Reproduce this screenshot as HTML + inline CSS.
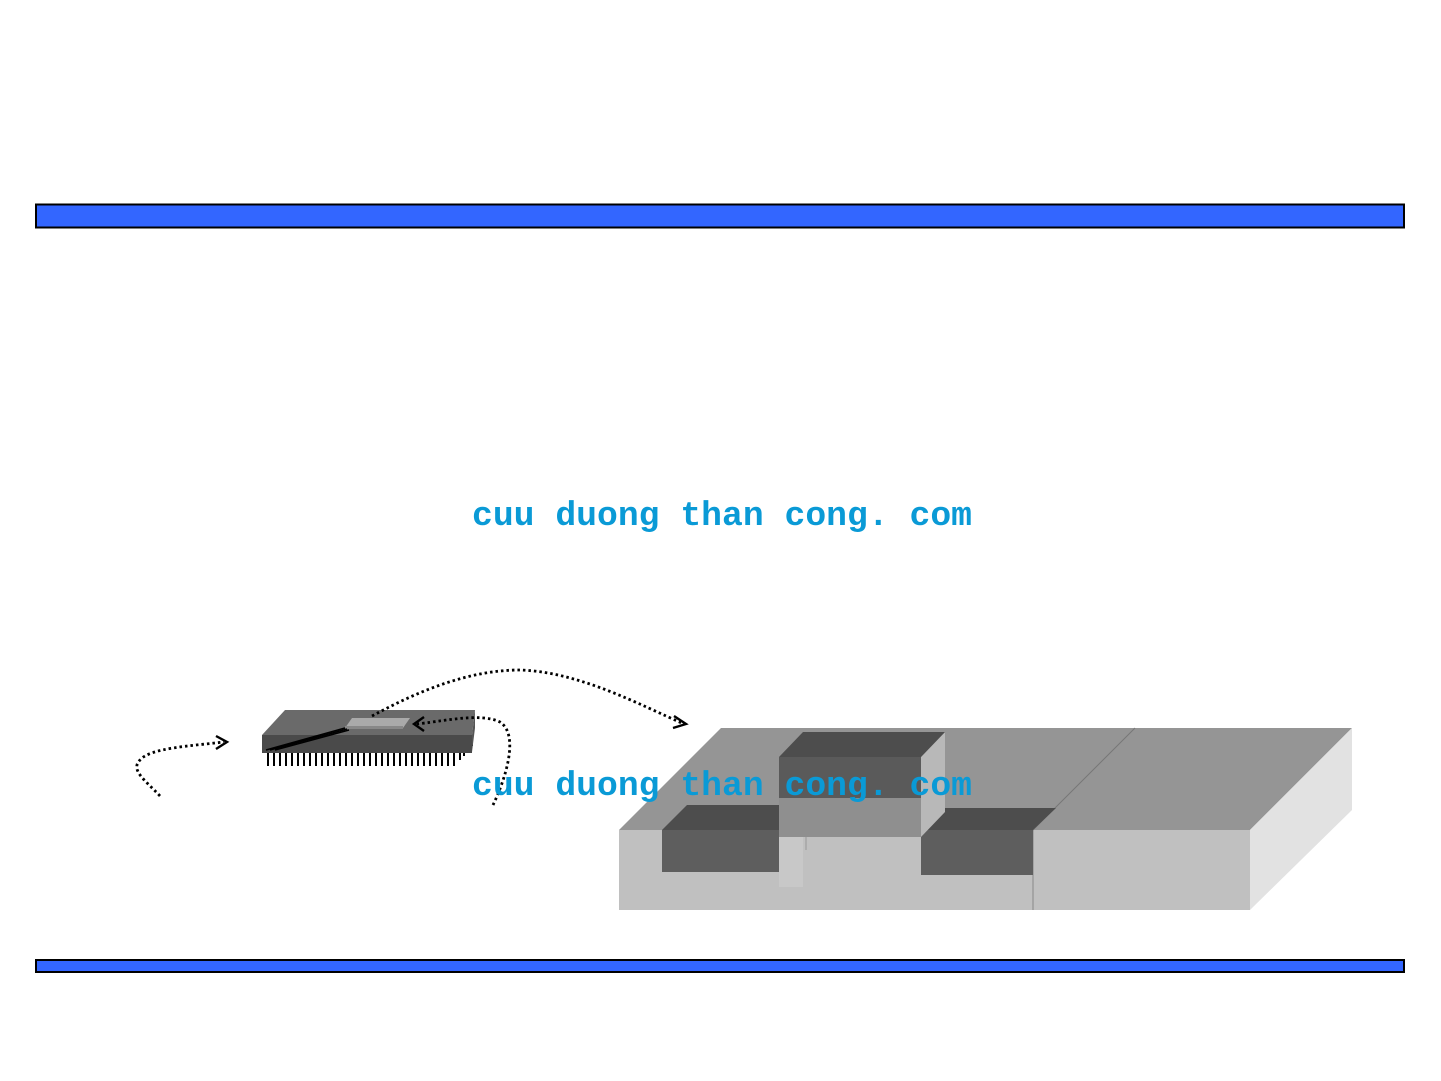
<!DOCTYPE html>
<html><head><meta charset="utf-8"><style>
html,body{margin:0;padding:0;background:#fff;}
svg{display:block;}
.wm{font-family:"Liberation Mono",monospace;font-size:34px;fill:#0a9ad6;font-weight:bold;}
</style></head><body>
<svg width="1441" height="1081" viewBox="0 0 1441 1081" xmlns="http://www.w3.org/2000/svg">
<rect x="36" y="204.5" width="1368" height="23" fill="#3366ff" stroke="#000" stroke-width="2"/>
<rect x="36" y="960" width="1368" height="12" fill="#3366ff" stroke="#000" stroke-width="2"/>

<!-- transistor block -->
<polygon points="619,830 721,728 1352,728 1250,830" fill="#959595"/>
<rect x="619" y="830" width="631" height="80" fill="#c0c0c0"/>
<polygon points="1250,830 1352,728 1352,810 1250,910" fill="#e2e2e2"/>
<line x1="1033" y1="830" x2="1033" y2="910" stroke="#888" stroke-width="1"/>
<line x1="1033" y1="830" x2="1135" y2="728" stroke="#777" stroke-width="1"/>
<polygon points="662,830 687,805 779,805 779,830" fill="#4d4d4d"/>
<rect x="662" y="830" width="117" height="42" fill="#5e5e5e"/>
<polygon points="921,830 945,808 1056,808 1033,830" fill="#4d4d4d"/>
<rect x="921" y="830" width="112" height="45" fill="#5e5e5e"/>
<rect x="779" y="837" width="24" height="50" fill="#c8c8c8"/>
<line x1="806" y1="837" x2="806" y2="850" stroke="#999"/>
<polygon points="921,757 945,732 945,812 921,837" fill="#b8b8b8"/>
<polygon points="779,757 803,732 945,732 921,757" fill="#4d4d4d"/>
<rect x="779" y="757" width="142" height="41" fill="#5a5a5a"/>
<rect x="779" y="798" width="142" height="39" fill="#8f8f8f"/>

<!-- chip -->
<g stroke="#000" stroke-width="2" fill="none">
<path d="M268 752 v14 M274 752 v14 M280 752 v14 M286 752 v14 M292 752 v14 M298 752 v14 M304 752 v14 M310 752 v14 M316 752 v14 M322 752 v14 M328 752 v14 M334 752 v14 M340 752 v14 M346 752 v14 M352 752 v14 M358 752 v14 M364 752 v14 M370 752 v14 M376 752 v14 M382 752 v14 M388 752 v14 M394 752 v14 M400 752 v14 M406 752 v14 M412 752 v14 M418 752 v14 M424 752 v14 M430 752 v14 M436 752 v14 M442 752 v14 M448 752 v14 M454 752 v14 M460 748 v12 M464 744 v12 M468 740 v12 M472 736 v10"/>
</g>
<polygon points="262,735 285,710 475,710 472,735" fill="#6a6a6a"/>
<polygon points="472,735 475,710 475,728 472,752" fill="#555"/>
<rect x="262" y="735" width="210" height="18" fill="#4a4a4a"/>
<polygon points="345,728 352,718 410,718 403,728" fill="#aaaaaa"/>
<rect x="345" y="726" width="58" height="3" fill="#888"/>
<g stroke="#000" stroke-width="1.5">
<line x1="266" y1="750" x2="345" y2="728"/>
<line x1="270" y1="750" x2="347" y2="729"/>
<line x1="275" y1="750" x2="349" y2="730"/>
</g>

<g fill="none" stroke="#000" stroke-width="2.8" stroke-dasharray="2.5,3">
<path d="M160 796 C145 780 130 770 140 760 C150 748 190 746 224 742"/>
<path d="M372 716 C420 690 470 670 520 670 C580 672 640 705 684 724"/>
<path d="M493 805 C505 780 520 735 500 722 C480 712 440 722 416 724"/>
</g>
<g fill="none" stroke="#000" stroke-width="2.4">
<path d="M216 736 L227 742 L216 749"/>
<path d="M674 716 L686 724 L673 728"/>
<path d="M424 717 L414 724 L424 731"/>
</g>

<text class="wm" x="472" y="525" textLength="500" lengthAdjust="spacingAndGlyphs">cuu duong than cong. com</text>
<text class="wm" x="472" y="795" textLength="500" lengthAdjust="spacingAndGlyphs">cuu duong than cong. com</text>
</svg>
</body></html>
